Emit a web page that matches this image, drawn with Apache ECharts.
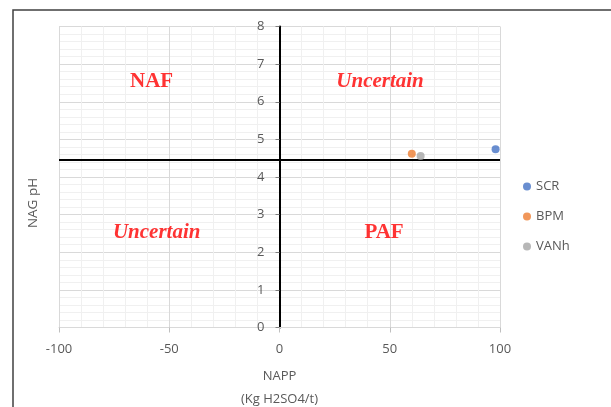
<!DOCTYPE html>
<html>
<head>
<meta charset="utf-8">
<script src="https://cdn.jsdelivr.net/npm/echarts@6/dist/echarts.min.js"></script>
<style>html,body{margin:0;padding:0;background:#fff}#c{width:611px;height:407px}</style>
</head>
<body>
<div id="c"></div>
<script>
// ---- data ----
const seriesNames = ['SCR', 'BPM', 'VANh'];
const seriesColors = ['#4472C4', '#ED7D31', '#A5A5A5'];
const nappValues = [98, 60, 64];          // NAPP (Kg H2SO4/t)
const nagPhValues = [4.74, 4.62, 4.56];   // NAG pH
const xTickRange = [-100, 100, 50];       // min, max, interval
const yTickRange = [0, 8, 1];
const thresholdPh = 4.45;
const zoneNames = ['NAF', 'Uncertain', 'Uncertain', 'PAF'];
const zoneX = [-58, 45.6, -55.7, 47.4];
const zoneY = [6.53, 6.53, 2.51, 2.51];
const zoneItalic = [false, true, true, false];

const chart = echarts.init(document.getElementById('c'), null, {renderer: 'canvas'});
const font = '"Open Sans", "Liberation Sans", sans-serif';

const gridLeft = 59, gridRight = 111;
const plotWidth = 611 - gridLeft - gridRight;
// y axis sits at x = 0 of the value axis
const yAxisOffset = -plotWidth * (0 - xTickRange[0]) / (xTickRange[1] - xTickRange[0]);

const pointSeries = seriesNames.map((n, i) => ({
  name: n,
  type: 'scatter',
  symbol: 'circle',
  symbolSize: 8,
  itemStyle: {color: seriesColors[i]},
  z: 5,
  data: [[nappValues[i], nagPhValues[i]]]
}));

const option = {
  animation: false,
  backgroundColor: '#fff',
  grid: {left: gridLeft, right: gridRight, top: 26.5, bottom: 79.5, outerBoundsMode: 'none', containLabel: false},
  legend: {
    data: seriesNames,
    orient: 'vertical',
    left: 518,
    top: 175,
    itemGap: 17,
    itemWidth: 8,
    itemHeight: 8,
    icon: 'circle',
    textStyle: {fontFamily: font, fontSize: 13, color: '#595959'}
  },
  xAxis: {
    type: 'value',
    min: xTickRange[0], max: xTickRange[1], interval: xTickRange[2],
    name: 'NAPP\n(Kg H2SO4/t)',
    nameLocation: 'middle',
    nameGap: 37,
    nameTextStyle: {fontFamily: font, fontSize: 13, color: '#595959', lineHeight: 23},
    axisLine: {onZero: false, lineStyle: {color: '#d9d9d9', width: 1}},
    axisTick: {show: true, length: 5, lineStyle: {color: '#bfbfbf'}},
    axisLabel: {fontFamily: font, fontSize: 13, color: '#595959', margin: 15},
    splitLine: {show: true, lineStyle: {color: '#d9d9d9', width: 1}},
    minorTick: {show: false, splitNumber: 5},
    minorSplitLine: {show: true, lineStyle: {color: '#f0f0f0', width: 1}}
  },
  yAxis: {
    type: 'value',
    min: yTickRange[0], max: yTickRange[1], interval: yTickRange[2],
    offset: yAxisOffset,
    axisLine: {show: true, onZero: false, lineStyle: {color: '#000', width: 2}},
    axisTick: {show: true, length: 4, lineStyle: {color: '#7f7f7f'}},
    axisLabel: {fontFamily: font, fontSize: 13, color: '#595959', margin: 15},
    splitLine: {show: true, lineStyle: {color: '#d9d9d9', width: 1}},
    minorTick: {show: false, splitNumber: 5},
    minorSplitLine: {show: true, lineStyle: {color: '#f0f0f0', width: 1}}
  },
  graphic: [
    {type: 'rect', shape: {x: 13, y: 10, width: 700, height: 500},
     style: {fill: 'none', stroke: '#404040', lineWidth: 1.5}, silent: true},
    {type: 'text', x: 33, y: 203, rotation: Math.PI / 2,
     style: {text: 'NAG pH', font: '13.5px ' + font, fill: '#595959', align: 'center', verticalAlign: 'middle'}}
  ],
  series: [
    {
      name: 'threshold',
      type: 'line',
      symbol: 'none',
      lineStyle: {color: '#000', width: 2},
      z: 3,
      data: [[xTickRange[0], thresholdPh], [xTickRange[1], thresholdPh]]
    },
    {
      name: 'zones',
      type: 'scatter',
      symbolSize: 0,
      z: 4,
      data: zoneNames.map((n, i) => ({
        name: n,
        value: [zoneX[i], zoneY[i]],
        label: {
          show: true,
          position: 'inside',
          formatter: n,
          fontFamily: '"Liberation Serif", "Times New Roman", serif',
          fontWeight: 'bold',
          fontStyle: zoneItalic[i] ? 'italic' : 'normal',
          fontSize: 21,
          color: '#FF0000'
        }
      }))
    },
    ...pointSeries
  ]
};
chart.setOption(option);
</script>
</body>
</html>
